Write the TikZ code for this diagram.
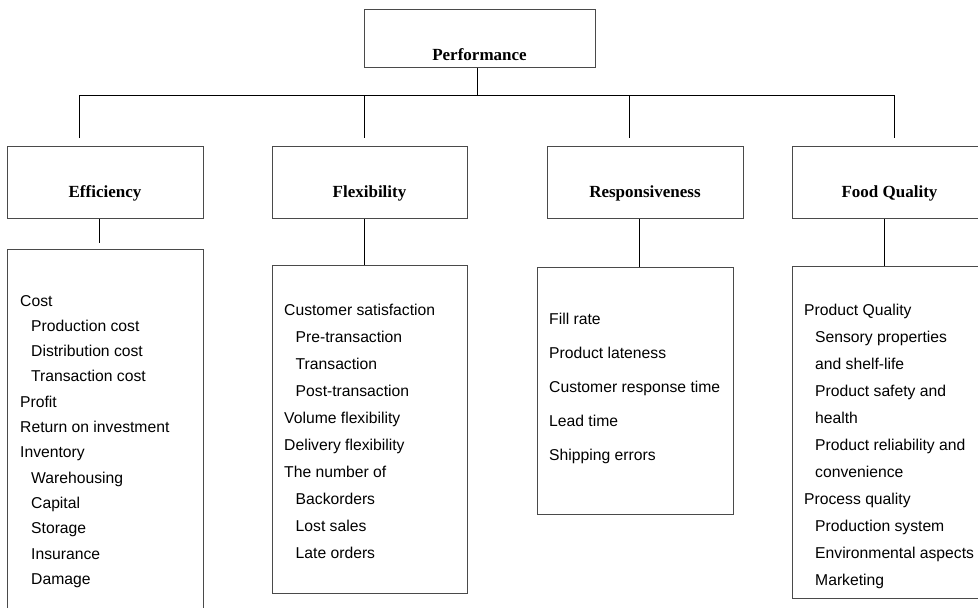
\documentclass[tikz,border=0pt]{standalone}
\usepackage{fontspec}
\setmainfont{Liberation Serif}
\setsansfont{Liberation Sans}
\definecolor{boxgray}{HTML}{4A4A4A}
\begin{document}
\begin{tikzpicture}[x=1pt,y=-1pt,
  box/.style={draw=boxgray, line width=1.2pt, inner sep=0pt, anchor=north west},
  link/.style={draw=black, line width=0.9pt},
  head/.style={font=\fontsize{17}{20}\selectfont\bfseries, anchor=base, inner sep=0pt},
  item/.style={font=\sffamily\fontsize{15.7}{18}\selectfont, anchor=base west, inner sep=0pt}]
\useasboundingbox (0,0) rectangle (978,608);
\clip (0,0) rectangle (978,608);
\fill[white] (0,0) rectangle (978,608);

% top
\node[box, minimum width=231pt, minimum height=58pt] (perf) at (364,9) {};
\node[head] (perft) at (479.5,60) {Performance};

% second level
\node[box, minimum width=196pt, minimum height=72pt] (eff) at (7,146) {};
\node[box, minimum width=195pt, minimum height=72pt] (flex) at (272,146) {};
\node[box, minimum width=196pt, minimum height=72pt] (resp) at (547,146) {};
\node[box, minimum width=195pt, minimum height=72pt] (food) at (792,146) {};
\node[head] (efft) at (105,197) {Efficiency};
\node[head] (flext) at (369.5,197) {Flexibility};
\node[head] (respt) at (645,197) {Responsiveness};
\node[head] (foodt) at (889.5,197) {Food Quality};

% lists
\node[box, minimum width=196pt, minimum height=380pt] (effl) at (7,249) {};
\node[box, minimum width=195pt, minimum height=328pt] (flexl) at (272,265) {};
\node[box, minimum width=196pt, minimum height=247pt] (respl) at (537,267) {};
\node[box, minimum width=195pt, minimum height=332pt] (foodl) at (792,266) {};

% connectors
\coordinate (busL) at (79,95);
\coordinate (busR) at (894,95);
\coordinate (b2) at (364,95);
\coordinate (b3) at (629,95);
\coordinate (d1) at (79,138);
\coordinate (d2) at (364,138);
\coordinate (d3) at (629,138);
\coordinate (d4) at (894,138);
\draw[link] ([xshift=-2.5pt]perf.south) -- ([xshift=-2.5pt]perf.south |- busL);
\draw[link] (d1) -- (busL) -- (busR) -- (d4);
\draw[link] (b2) -- (d2);
\draw[link] (b3) -- (d3);

\coordinate (s1) at (99,243);
\draw[link] (s1 |- eff.south) -- (s1);
\draw[link] (flex.south -| 364,0) -- (flexl.north -| 364,0);
\draw[link] (resp.south -| 639,0) -- (respl.north -| 639,0);
\draw[link] (food.south -| 884,0) -- (foodl.north -| 884,0);

% items
\foreach \ind/\t [count=\i] in {0/Cost,1/Production cost,1/Distribution cost,1/Transaction cost,0/Profit,0/Return on investment,0/Inventory,1/Warehousing,1/Capital,1/Storage,1/Insurance,1/Damage}
  \node[item] (e\i) at ({20+11*\ind},{306+25.3*(\i-1)}) {\t};

\foreach \ind/\t [count=\i] in {0/Customer satisfaction,1/Pre-transaction,1/Transaction,1/Post-transaction,0/Volume flexibility,0/Delivery flexibility,0/The number of,1/Backorders,1/Lost sales,1/Late orders}
  \node[item] (f\i) at ({284+11.5*\ind},{315.7+27*(\i-1)}) {\t};

\foreach \t [count=\i] in {Fill rate,Product lateness,Customer response time,Lead time,Shipping errors}
  \node[item] (r\i) at (549,{324.7+34*(\i-1)}) {\t};

\foreach \ind/\t [count=\i] in {0/Product Quality,1/Sensory properties,1/and shelf-life,1/Product safety and,1/health,1/Product reliability and,1/convenience,0/Process quality,1/Production system,1/Environmental aspects,1/Marketing}
  \node[item] (q\i) at ({804+11*\ind},{315.7+27*(\i-1)}) {\t};
\end{tikzpicture}
\end{document}
